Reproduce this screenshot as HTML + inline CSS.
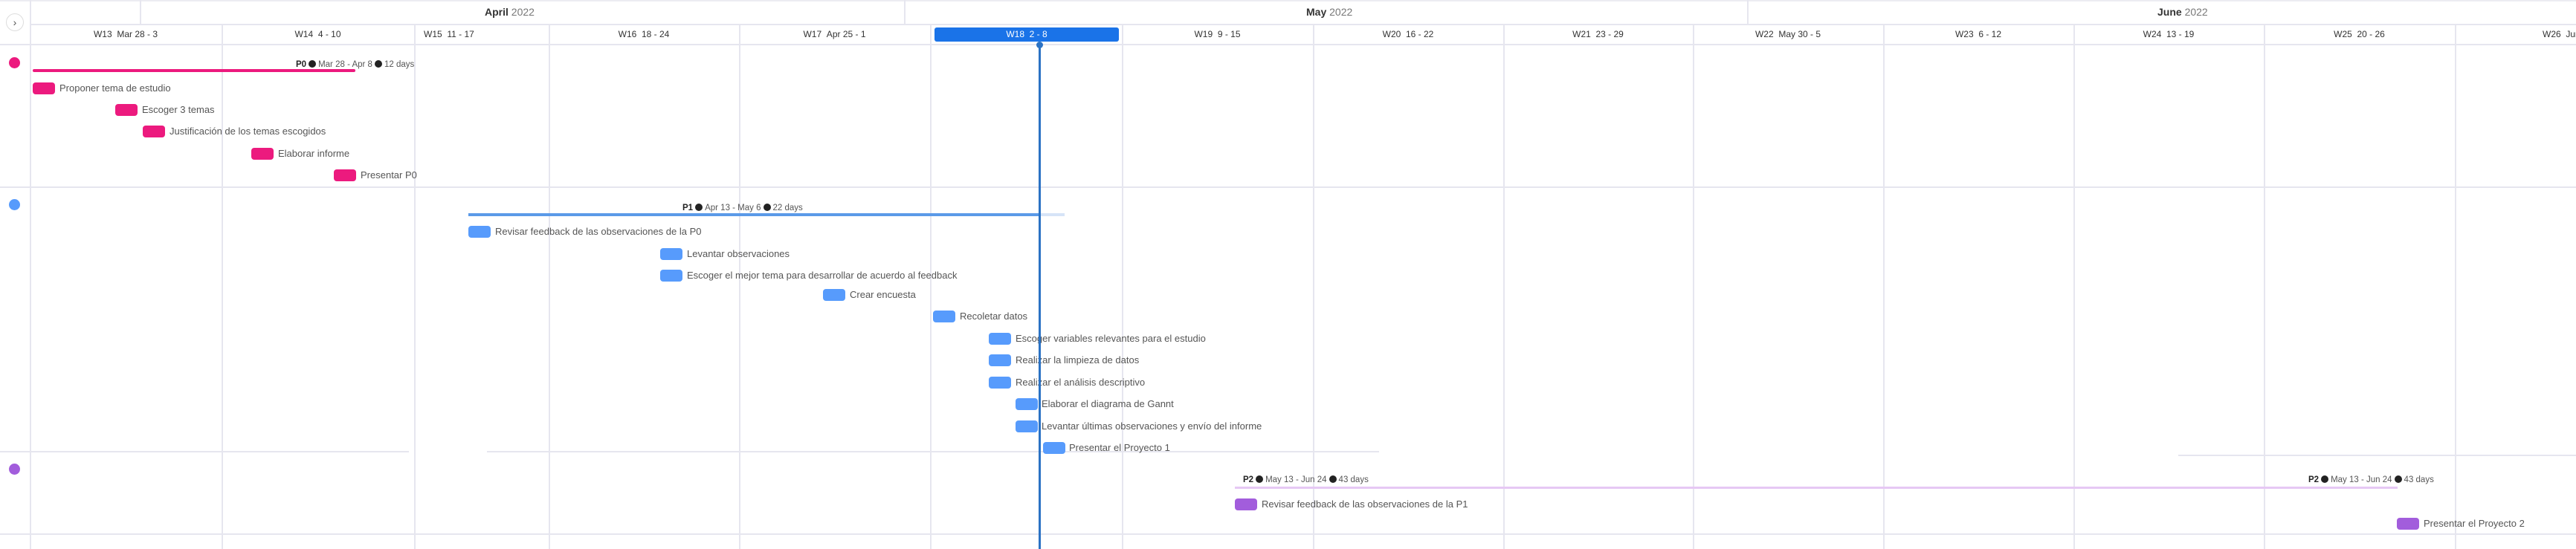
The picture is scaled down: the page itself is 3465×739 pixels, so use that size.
<!DOCTYPE html>
<html><head><meta charset="utf-8"><style>
*{margin:0;padding:0;box-sizing:border-box}
body{width:3465px;height:739px;background:#fff;position:relative;overflow:hidden;font-family:"Liberation Sans",sans-serif;color:#444}
.a{position:absolute}
.v{position:absolute;width:2px;background:#e6e6ef}
.h{position:absolute;height:2px;background:#e6e6ef}
.wk{position:absolute;top:33px;height:27px;line-height:27px;font-size:12px;color:#333;text-align:center}
.bar{position:absolute;width:30px;height:16px;border-radius:4px}
.t{position:absolute;font-size:13px;color:#555;white-space:nowrap;line-height:16px}
.pk{background:#ec1a7e}.bl{background:#579bfc}.pu{background:#a25ddc}
.lbl{position:absolute;font-size:11.5px;color:#555;white-space:nowrap;line-height:14px}
.lbl b{color:#222}
.dot{display:inline-block;width:10px;height:10px;border-radius:50%;background:#222;vertical-align:-1px;margin:0 3px}
</style></head><body>
<div class="h" style="left:0;top:0;width:3465px;background:#ececf2"></div>
<div class="h" style="left:40px;top:32px;width:3425px"></div>
<div class="h" style="left:0;top:59px;width:3465px"></div>
<div class="v" style="left:40px;top:0;height:739px"></div>
<div class="v" style="left:188px;top:0;height:33px"></div>
<div class="v" style="left:1216px;top:0;height:33px"></div>
<div class="v" style="left:2350px;top:0;height:33px"></div>
<div class="a" style="left:652px;top:8px;font-size:14px;color:#777"><b style="color:#333">April</b> 2022</div>
<div class="a" style="left:1757px;top:8px;font-size:14px;color:#777"><b style="color:#333">May</b> 2022</div>
<div class="a" style="left:2902px;top:8px;font-size:14px;color:#777"><b style="color:#333">June</b> 2022</div>
<div class="v" style="left:298px;top:33px;height:706px"></div>
<div class="v" style="left:557px;top:33px;height:706px"></div>
<div class="v" style="left:738px;top:33px;height:706px"></div>
<div class="v" style="left:994px;top:33px;height:706px"></div>
<div class="v" style="left:1251px;top:33px;height:706px"></div>
<div class="v" style="left:1509px;top:33px;height:706px"></div>
<div class="v" style="left:1766px;top:33px;height:706px"></div>
<div class="v" style="left:2022px;top:33px;height:706px"></div>
<div class="v" style="left:2277px;top:33px;height:706px"></div>
<div class="v" style="left:2533px;top:33px;height:706px"></div>
<div class="v" style="left:2789px;top:33px;height:706px"></div>
<div class="v" style="left:3045px;top:33px;height:706px"></div>
<div class="v" style="left:3302px;top:33px;height:706px"></div>
<div class="wk" style="left:40px;width:258px">W13&nbsp;&nbsp;Mar 28 - 3</div>
<div class="wk" style="left:298px;width:259px">W14&nbsp;&nbsp;4 - 10</div>
<div class="wk" style="left:570px;width:80px;text-align:left">W15&nbsp;&nbsp;11 - 17</div>
<div class="wk" style="left:738px;width:256px">W16&nbsp;&nbsp;18 - 24</div>
<div class="wk" style="left:994px;width:257px">W17&nbsp;&nbsp;Apr 25 - 1</div>
<div class="a" style="left:1257px;top:37px;width:248px;height:19px;background:#1a73e8;border-radius:3px;color:#fff;font-size:12px;line-height:19px;text-align:center">W18&nbsp;&nbsp;2 - 8</div>
<div class="wk" style="left:1509px;width:257px">W19&nbsp;&nbsp;9 - 15</div>
<div class="wk" style="left:1766px;width:256px">W20&nbsp;&nbsp;16 - 22</div>
<div class="wk" style="left:2022px;width:255px">W21&nbsp;&nbsp;23 - 29</div>
<div class="wk" style="left:2277px;width:256px">W22&nbsp;&nbsp;May 30 - 5</div>
<div class="wk" style="left:2533px;width:256px">W23&nbsp;&nbsp;6 - 12</div>
<div class="wk" style="left:2789px;width:256px">W24&nbsp;&nbsp;13 - 19</div>
<div class="wk" style="left:3045px;width:257px">W25&nbsp;&nbsp;20 - 26</div>
<div class="wk" style="left:3420px;width:80px;text-align:left">W26&nbsp;&nbsp;Jun 27</div>
<div class="a" style="left:8px;top:18px;width:24px;height:24px;border:1px solid #ddd;border-radius:50%;font-size:14px;line-height:22px;text-align:center;color:#555">›</div>
<div class="h" style="left:0;top:251px;width:3465px"></div>
<div class="h" style="left:0;top:607px;width:550px"></div>
<div class="h" style="left:655px;top:607px;width:1200px"></div>
<div class="h" style="left:2930px;top:612px;width:535px"></div>
<div class="h" style="left:0;top:718px;width:3465px"></div>
<div class="a" style="left:12px;top:77px;width:15px;height:15px;border-radius:50%;background:#ec1a7e"></div>
<div class="a" style="left:12px;top:268px;width:15px;height:15px;border-radius:50%;background:#579bfc"></div>
<div class="a" style="left:12px;top:624px;width:15px;height:15px;border-radius:50%;background:#a25ddc"></div>
<div class="a" style="left:44px;top:93px;width:434px;height:4px;background:#ec1a7e;border-radius:2px"></div>
<div class="lbl" style="left:398px;top:80px"><b>P0</b><span class="dot"></span>Mar 28 - Apr 8<span class="dot"></span>12 days</div>
<div class="bar pk" style="left:44px;top:111px"></div><div class="t" style="left:80px;top:111px">Proponer tema de estudio</div>
<div class="bar pk" style="left:155px;top:140px"></div><div class="t" style="left:191px;top:140px">Escoger 3 temas</div>
<div class="bar pk" style="left:192px;top:169px"></div><div class="t" style="left:228px;top:169px">Justificación de los temas escogidos</div>
<div class="bar pk" style="left:338px;top:199px"></div><div class="t" style="left:374px;top:199px">Elaborar informe</div>
<div class="bar pk" style="left:449px;top:228px"></div><div class="t" style="left:485px;top:228px">Presentar P0</div>
<div class="a" style="left:630px;top:287px;width:768px;height:4px;background:#5b9ae8"></div>
<div class="a" style="left:1398px;top:287px;width:34px;height:4px;background:#d6e4f7"></div>
<div class="lbl" style="left:918px;top:273px"><b>P1</b><span class="dot"></span>Apr 13 - May 6<span class="dot"></span>22 days</div>
<div class="bar bl" style="left:630px;top:304px"></div><div class="t" style="left:666px;top:304px">Revisar feedback de las observaciones de la P0</div>
<div class="bar bl" style="left:888px;top:334px"></div><div class="t" style="left:924px;top:334px">Levantar observaciones</div>
<div class="bar bl" style="left:888px;top:363px"></div><div class="t" style="left:924px;top:363px">Escoger el mejor tema para desarrollar de acuerdo al feedback</div>
<div class="bar bl" style="left:1107px;top:389px"></div><div class="t" style="left:1143px;top:389px">Crear encuesta</div>
<div class="bar bl" style="left:1255px;top:418px"></div><div class="t" style="left:1291px;top:418px">Recoletar datos</div>
<div class="bar bl" style="left:1330px;top:448px"></div><div class="t" style="left:1366px;top:448px">Escoger variables relevantes para el estudio</div>
<div class="bar bl" style="left:1330px;top:477px"></div><div class="t" style="left:1366px;top:477px">Realizar la limpieza de datos</div>
<div class="bar bl" style="left:1330px;top:507px"></div><div class="t" style="left:1366px;top:507px">Realizar el análisis descriptivo</div>
<div class="bar bl" style="left:1366px;top:536px"></div><div class="t" style="left:1401px;top:536px">Elaborar el diagrama de Gannt</div>
<div class="bar bl" style="left:1366px;top:566px"></div><div class="t" style="left:1401px;top:566px">Levantar últimas observaciones y envío del informe</div>
<div class="bar bl" style="left:1403px;top:595px"></div><div class="t" style="left:1438px;top:595px">Presentar el Proyecto 1</div>
<div class="a" style="left:1661px;top:655px;width:1564px;height:3px;background:#e6c8f4"></div>
<div class="lbl" style="left:1672px;top:639px"><b>P2</b><span class="dot"></span>May 13 - Jun 24<span class="dot"></span>43 days</div>
<div class="lbl" style="left:3105px;top:639px"><b>P2</b><span class="dot"></span>May 13 - Jun 24<span class="dot"></span>43 days</div>
<div class="bar pu" style="left:1661px;top:671px"></div><div class="t" style="left:1697px;top:671px">Revisar feedback de las observaciones de la P1</div>
<div class="bar pu" style="left:3224px;top:697px"></div><div class="t" style="left:3260px;top:697px">Presentar el Proyecto 2</div>
<div class="a" style="left:1397px;top:60px;width:3px;height:679px;background:#2b72c4"></div>
<div class="a" style="left:1394px;top:56px;width:9px;height:9px;border-radius:50%;background:#2b72c4"></div>
</body></html>
